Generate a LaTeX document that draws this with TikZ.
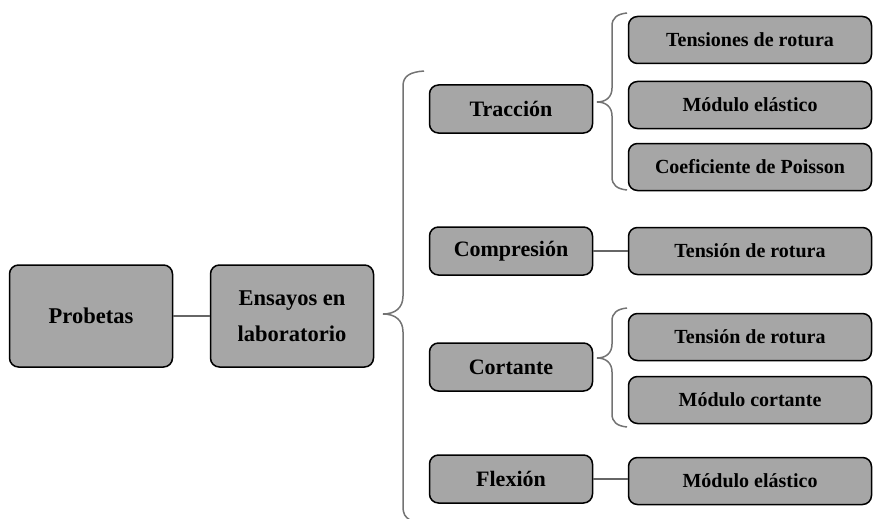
\documentclass[tikz,border=0pt]{standalone}
\usepackage{fontspec}
\setmainfont{Liberation Serif}

\begin{document}
\begin{tikzpicture}
  [x=1pt, y=-1pt,
   every node/.style={draw=black, line width=1.5pt, fill=gray!70, rounded corners=9pt,
                      align=center, inner sep=0pt},
   root/.style={minimum width=163pt, minimum height=102pt,
                font=\bfseries\fontsize{22.5}{36}\selectfont},
   level 2/.style={minimum width=163pt, minimum height=48pt,
                   font=\bfseries\fontsize{22}{26}\selectfont},
   level 3/.style={minimum width=243pt, minimum height=47pt,
                   font=\bfseries\fontsize{20}{24}\selectfont},
   link/.style={draw=black!60, line width=1.2pt},
   brace/.style={draw=black!55, line width=1.5pt}]
  \useasboundingbox (0,0) rectangle (873,519);
  % first column
  \node [root] (probetas) at (91,316) {Probetas};
  \node [root] (ensayos) at (292,316) {Ensayos en\\laboratorio};
  % kinds of test
  \node [level 2] (traccion) at (511,109) {Tracción};
  \node [level 2] (compresion) at (511,251) {Compresión};
  \node [level 2] (cortante) at (511,367) {Cortante};
  \node [level 2] (flexion) at (511,479) {Flexión};
  % results
  \node [level 3] (tensiones) at (750,40) {Tensiones de rotura};
  \node [level 3] (modulo) at (750,105) {Módulo elástico};
  \node [level 3] (poisson) at (750,167) {Coeficiente de Poisson};
  \node [level 3] (rotura c) at (750,251) {Tensión de rotura};
  \node [level 3] (rotura t) at (750,337) {Tensión de rotura};
  \node [level 3] (modulo c) at (750,400) {Módulo cortante};
  \node [level 3] (modulo f) at (750,481) {Módulo elástico};

  \draw [link] (probetas) -- (ensayos);
  \draw [link] (compresion) -- (rotura c);
  \draw [link] (flexion.east) -- (modulo f.west |- flexion.east);

  % braces
  \draw [brace] (424,71) .. controls (410,72) and (403,76) .. (403,86)
     -- (403,296) .. controls (403,308) and (395,314) .. (383,314)
     .. controls (395,314) and (403,320) .. (403,332)
     -- (403,506) .. controls (403,514) and (405,517) .. (410,520);
  \draw [brace] (627,13) .. controls (617,14) and (612,18) .. (612,26)
     -- (612,88) .. controls (612,97) and (606,102) .. (597,102)
     .. controls (606,102) and (612,107) .. (612,116)
     -- (612,177) .. controls (612,185) and (617,189) .. (627,190);
  \draw [brace] (627,308) .. controls (617,309) and (612,313) .. (612,321)
     -- (612,344) .. controls (612,353) and (606,358) .. (597,358)
     .. controls (606,358) and (612,363) .. (612,372)
     -- (612,414) .. controls (612,422) and (617,426) .. (627,427);
\end{tikzpicture}
\end{document}
